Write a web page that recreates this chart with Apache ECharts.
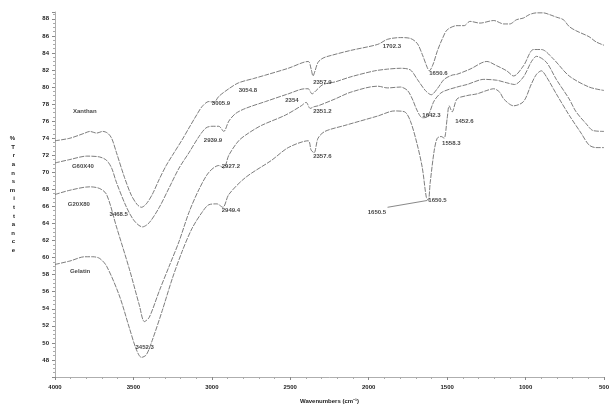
<!DOCTYPE html>
<html>
<head>
<meta charset="utf-8">
<script src="https://cdn.jsdelivr.net/npm/echarts@6/dist/echarts.min.js"></script>
<style>
  html, body { margin: 0; padding: 0; background: #fff; }
  #chart { width: 612px; height: 409px; }
</style>
</head>
<body>
<div id="chart"></div>
<script>
// spectra: [wavenumber cm-1, %T]
var xanthan = [
  [4000,73.7],[3905,74.0],[3810,74.6],[3778,74.8],[3734,74.6],[3696,74.8],[3665,74.6],[3639,74.0],
  [3608,72.3],[3557,69.4],[3513,67.3],[3475,66.2],[3449,65.9],[3418,66.3],[3380,67.4],[3335,69.2],
  [3291,70.8],[3241,72.3],[3190,73.8],[3146,75.2],[3101,76.6],[3063,77.7],[3019,78.3],[2987,78.2],
  [2956,78.9],[2892,79.8],[2829,80.5],[2734,81.0],[2658,81.4],[2513,82.2],[2386,83.0],[2367,82.1],
  [2355,81.3],[2342,81.9],[2323,82.9],[2291,83.4],[2241,83.7],[2114,84.3],[1943,85.0],[1880,85.6],
  [1798,85.8],[1734,85.7],[1690,85.1],[1658,83.8],[1627,82.3],[1614,81.9],[1589,82.7],[1563,84.2],
  [1532,85.6],[1500,86.7],[1437,87.2],[1392,87.2],[1354,87.7],[1291,87.5],[1203,87.8],[1139,87.4],
  [1101,87.4],[1057,87.9],[1013,88.1],[975,88.5],[930,88.7],[886,88.7],[848,88.5],[804,88.2],
  [759,87.9],[722,87.1],[678,86.6],[595,85.9],[551,85.3],[500,84.9]
];
var g60x40 = [
  [4000,71.1],[3905,71.5],[3797,71.9],[3715,71.8],[3671,71.4],[3639,70.5],[3608,68.8],[3544,65.9],
  [3494,64.3],[3443,63.6],[3399,64.1],[3335,65.9],[3272,68.2],[3209,70.5],[3146,72.3],[3082,74.2],
  [3038,75.2],[3000,75.4],[2956,75.4],[2924,74.8],[2892,76.0],[2848,76.9],[2785,77.5],[2658,78.3],
  [2513,79.2],[2405,79.8],[2386,79.8],[2361,79.2],[2335,79.6],[2291,80.3],[2215,80.6],[2114,81.2],
  [1962,81.9],[1880,82.1],[1798,82.2],[1734,82.0],[1690,80.9],[1639,79.6],[1601,79.1],[1563,79.8],
  [1519,80.9],[1468,81.4],[1437,81.5],[1354,82.1],[1247,83.0],[1184,82.5],[1120,81.9],[1076,81.3],
  [1013,82.5],[949,84.4],[899,84.4],[823,83.3],[722,81.3],[595,80.0],[500,79.6]
];
var g20x80 = [
  [4000,67.4],[3905,67.9],[3778,68.3],[3715,68.1],[3671,67.4],[3608,63.6],[3525,58.6],[3462,54.4],
  [3430,52.5],[3399,53.0],[3335,56.1],[3272,59.0],[3209,61.9],[3146,65.3],[3082,68.0],[3019,70.0],
  [2956,70.8],[2924,70.5],[2892,72.0],[2829,73.7],[2766,74.6],[2684,75.5],[2532,76.7],[2430,77.8],
  [2399,78.2],[2373,77.5],[2348,77.7],[2323,77.8],[2215,78.6],[2114,79.4],[1943,80.1],[1880,79.9],
  [1798,80.0],[1753,79.6],[1722,78.6],[1690,77.2],[1658,76.4],[1627,76.5],[1582,78.4],[1532,79.4],
  [1437,80.0],[1373,80.3],[1266,80.9],[1184,80.8],[1120,80.5],[1070,80.3],[1013,81.2],[962,83.0],
  [930,83.6],[867,82.9],[804,80.9],[722,78.6],[678,77.1],[614,75.7],[570,74.9],[500,74.8]
];
var gelatin = [
  [4000,59.2],[3905,59.6],[3810,60.1],[3759,60.1],[3715,59.9],[3671,59.0],[3589,55.5],[3525,51.7],
  [3481,49.2],[3449,48.3],[3418,48.6],[3380,50.3],[3316,53.8],[3253,57.5],[3190,60.7],[3127,63.4],
  [3063,65.3],[3019,66.2],[2968,66.3],[2930,65.9],[2892,67.4],[2785,69.4],[2620,71.4],[2513,72.9],
  [2386,73.7],[2367,72.6],[2348,72.3],[2323,74.0],[2279,74.8],[2152,75.5],[1943,76.6],[1835,77.2],
  [1772,77.1],[1734,76.0],[1690,73.2],[1658,70.5],[1633,67.1],[1620,66.7],[1608,68.8],[1582,72.6],
  [1563,74.0],[1538,74.2],[1519,74.0],[1500,76.3],[1487,77.8],[1468,77.1],[1437,78.6],[1373,79.0],
  [1310,79.2],[1247,79.6],[1203,79.8],[1165,79.4],[1139,78.6],[1076,77.8],[1013,78.3],[962,80.4],
  [930,81.5],[899,81.9],[867,81.2],[804,79.2],[722,76.7],[646,74.6],[595,73.2],[551,72.9],[500,72.9]
];
// text notes on the plot: [wavenumber, %T, text]
var notes = [
  [3886,77.1,'Xanthan'],[3892,70.7,'G60X40'],[3918,66.3,'G20X80'],[3905,58.4,'Gelatin'],
  [3652,65.1,'3468.5'],[3487,49.5,'3452.3'],[3000,78.1,'3005.9'],[2829,79.6,'3054.8'],
  [3051,73.7,'2939.9'],[2937,70.7,'2927.2'],[2937,65.6,'2949.4'],[2532,78.4,'2354'],
  [2354,80.5,'2357.9'],[2354,77.2,'2351.2'],[2354,71.9,'2357.6'],[1911,84.8,'1702.3'],
  [1614,81.6,'1650.6'],[1658,76.7,'1642.3'],[1449,76.0,'1452.6'],[1532,73.4,'1558.3'],
  [1620,66.7,'1650.5'],[2006,65.3,'1650.5']
];
var leader = [[1627,66.7],[1880,65.9]];
var xTicks = [4000, 3500, 3000, 2500, 2000, 1500, 1000, 500];
var yLetters = ['%','T','r','a','n','s','m','i','t','t','a','n','c','e'];

var chart = echarts.init(document.getElementById('chart'));

function spectrum(name, data) {
  return {
    name: name,
    type: 'line',
    data: data,
    symbol: 'none',
    smooth: 0.3,
    lineStyle: { color: '#5c5c5c', width: 0.8, type: [5, 1.2] },
    z: 2
  };
}

var option = {
  backgroundColor: '#fff',
  animation: false,
  textStyle: { fontFamily: 'Liberation Sans, Arial, sans-serif' },
  grid: { left: 55, right: 4, top: 12, bottom: 27 },
  xAxis: {
    type: 'value',
    inverse: true,
    min: 500,
    max: 4000,
    interval: 500,
    name: 'Wavenumbers (cm\u207b\u00b9)',
    nameLocation: 'middle',
    nameGap: 21,
    nameTextStyle: { fontSize: 6, color: '#222', fontWeight: 'bold' },
    axisLine: { lineStyle: { color: '#999', width: 0.8 } },
    axisTick: { length: 3, lineStyle: { color: '#888' } },
    minorTick: { show: true, splitNumber: 5, length: 2, lineStyle: { color: '#aaa' } },
    axisLabel: {
      fontSize: 6, color: '#222', margin: 7, fontWeight: 'bold',
      formatter: function (v) { return xTicks.indexOf(v) >= 0 ? String(v) : ''; }
    },
    splitLine: { show: false }
  },
  yAxis: {
    type: 'value',
    min: 46,
    max: 88.8,
    interval: 2,
    name: yLetters.join('\n'),
    nameLocation: 'middle',
    nameGap: 40,
    nameRotate: 0,
    nameTextStyle: { fontSize: 6, lineHeight: 8.6, color: '#222', fontWeight: 'bold' },
    axisLine: { show: true, lineStyle: { color: '#999', width: 0.8 } },
    axisTick: { show: true, length: 3, lineStyle: { color: '#888' } },
    minorTick: { show: true, splitNumber: 4, length: 2, lineStyle: { color: '#aaa' } },
    axisLabel: { fontSize: 6, color: '#222', margin: 6, fontWeight: 'bold', showMinLabel: false, showMaxLabel: false },
    splitLine: { show: false }
  },
  series: [
    spectrum('Xanthan', xanthan),
    spectrum('G60X40', g60x40),
    spectrum('G20X80', g20x80),
    spectrum('Gelatin', gelatin),
    {
      type: 'scatter',
      data: notes,
      symbolSize: 0,
      silent: true,
      label: {
        show: true,
        position: 'right',
        distance: 0,
        fontSize: 6,
        fontWeight: 'bold',
        color: '#111',
        formatter: function (p) { return p.data[2]; }
      },
      z: 3
    },
    {
      type: 'line',
      data: leader,
      symbol: 'none',
      lineStyle: { color: '#555', width: 0.7 },
      z: 2
    }
  ]
};
chart.setOption(option);
</script>
</body>
</html>
